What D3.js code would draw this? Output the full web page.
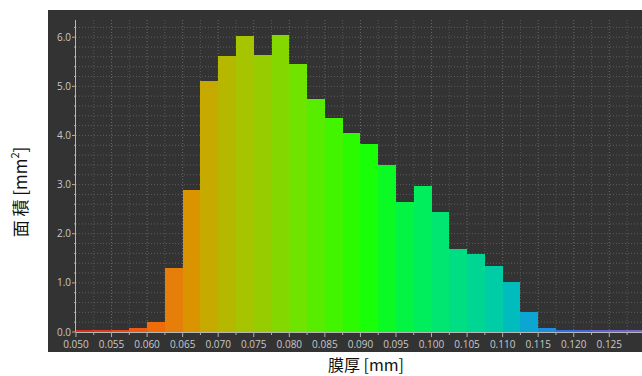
<!DOCTYPE html>
<html>
<head>
<meta charset="utf-8">
<title>膜厚 histogram</title>
<script src="https://d3js.org/d3.v7.min.js"></script>
<style>
  body { margin: 0; background: #fff; }
  svg text { font-family: "Open Sans", "Noto Sans", sans-serif; }
</style>
</head>
<body>
<svg id="chart" width="642" height="376"></svg>
<script>
// bin lower edges (mm), bin width 0.0025
var binStart = [0.0500, 0.0525, 0.0550, 0.0575, 0.0600, 0.0625, 0.0650, 0.0675, 0.0700, 0.0725,
                0.0750, 0.0775, 0.0800, 0.0825, 0.0850, 0.0875, 0.0900, 0.0925, 0.0950, 0.0975,
                0.1000, 0.1025, 0.1050, 0.1075, 0.1100, 0.1125, 0.1150, 0.1175, 0.1200, 0.1225,
                0.1250, 0.1275];
// area (mm2)
var areaValues = [0.03, 0.03, 0.04, 0.08, 0.20, 1.30, 2.88, 5.10, 5.62, 6.03,
                  5.64, 6.05, 5.46, 4.74, 4.35, 4.05, 3.82, 3.40, 2.65, 2.98,
                  2.45, 1.68, 1.58, 1.34, 1.01, 0.40, 0.09, 0.05, 0.03, 0.02,
                  0.02, 0.02];
var binColors = ["#d8301c", "#e03a18", "#e84816", "#ee5a10", "#f06c08", "#e67e0a", "#da9400", "#c6aa00", "#b6b800", "#a6c400",
                 "#96cc00", "#84d800", "#6ee400", "#58ec00", "#42f400", "#2cfa00", "#18ff08", "#0cfa24", "#04f444", "#00ee5c",
                 "#00e670", "#00de84", "#00d694", "#00cca6", "#00bcbc", "#0ca6d2", "#1c8ee2", "#3070e0", "#4862d8", "#6060d0",
                 "#6e64cc", "#7468c8"];
var xTicks = [0.050, 0.055, 0.060, 0.065, 0.070, 0.075, 0.080, 0.085, 0.090, 0.095, 0.100, 0.105, 0.110, 0.115, 0.120, 0.125];
var yTicks = [0, 1, 2, 3, 4, 5, 6];
var binWidth = 0.0025;

var svg = d3.select("#chart");

var panel = {left: 48, top: 10, right: 642, bottom: 352};

var x = d3.scaleLinear().domain([0.05, 0.1296]).range([76, 642]);
var y = d3.scaleLinear().domain([0, 6.35]).range([332, 20]);

// dark panel
svg.append("rect")
  .attr("x", panel.left).attr("y", panel.top)
  .attr("width", panel.right - panel.left).attr("height", panel.bottom - panel.top)
  .attr("fill", "#333333");

// grid
var xGrid = d3.range(0, 32).map(function(i) { return 0.05 + i * 0.0025; });
var yGrid = d3.range(1, 32).map(function(i) { return i * 0.2; });

svg.append("g").selectAll("line")
  .data(xGrid.slice(1))
  .enter().append("line")
  .attr("x1", function(d) { return x(d); }).attr("x2", function(d) { return x(d); })
  .attr("y1", y(6.35)).attr("y2", y(0))
  .attr("stroke", function(d, i) { return (i % 2 == 1) ? "#6a6a6a" : "#575757"; })
  .attr("stroke-width", 1)
  .attr("stroke-dasharray", "1,2");

svg.append("g").selectAll("line")
  .data(yGrid)
  .enter().append("line")
  .attr("x1", x(0.05)).attr("x2", 642)
  .attr("y1", function(d) { return y(d); }).attr("y2", function(d) { return y(d); })
  .attr("stroke", "#5c5c5c")
  .attr("stroke-width", 1)
  .attr("stroke-dasharray", "1,2");

// x axis
var xAxis = svg.append("g")
  .attr("transform", "translate(0," + y(0) + ")");
xAxis.append("line")
  .attr("x1", x(0.05)).attr("x2", 642).attr("y1", 0.5).attr("y2", 0.5)
  .attr("stroke", "#b8b8b8");
xAxis.selectAll(".minor")
  .data(xGrid)
  .enter().append("line")
  .attr("x1", function(d) { return x(d); }).attr("x2", function(d) { return x(d); })
  .attr("y1", 0).attr("y2", function(d, i) { return (i % 2 == 0) ? 5 : 3; })
  .attr("stroke", "#b0b0b0");
xAxis.selectAll("text")
  .data(xTicks)
  .enter().append("text")
  .attr("x", function(d) { return x(d); })
  .attr("y", 16)
  .attr("text-anchor", "middle")
  .attr("fill", "#c8c8c8")
  .style("font-size", "10px")
  .text(function(d) { return d3.format(".3f")(d); });

// bars (drawn over the baseline so tiny bins stay visible)
svg.append("g")
  .attr("shape-rendering", "crispEdges")
  .selectAll("rect")
  .data(binStart)
  .enter().append("rect")
  .attr("x", function(d) { return Math.round(x(d)); })
  .attr("width", function(d) { return Math.round(x(d + binWidth)) - Math.round(x(d)); })
  .attr("y", function(d, i) { return Math.min(y(areaValues[i]), y(0) - 2); })
  .attr("height", function(d, i) { return Math.max(y(0) - y(areaValues[i]), 2); })
  .attr("fill", function(d, i) { return binColors[i]; });

// y axis
var yAxis = svg.append("g")
  .attr("transform", "translate(" + x(0.05) + ",0)");
yAxis.append("line")
  .attr("x1", -0.5).attr("x2", -0.5).attr("y1", y(6.35)).attr("y2", y(0))
  .attr("stroke", "#b8b8b8");
yAxis.selectAll(".minor")
  .data(d3.range(0, 32).map(function(i) { return i * 0.2; }))
  .enter().append("line")
  .attr("x1", function(d, i) { return (i % 5 == 0) ? -4 : -2; }).attr("x2", 0)
  .attr("y1", function(d) { return y(d); }).attr("y2", function(d) { return y(d); })
  .attr("stroke", "#b0b0b0");
yAxis.selectAll("text")
  .data(yTicks)
  .enter().append("text")
  .attr("x", -5)
  .attr("y", function(d) { return y(d) + 3.5; })
  .attr("text-anchor", "end")
  .attr("fill", "#c8c8c8")
  .style("font-size", "10px")
  .text(function(d) { return d3.format(".1f")(d); });

// axis titles
svg.append("text")
  .attr("x", 366).attr("y", 371)
  .attr("text-anchor", "middle")
  .attr("fill", "#111")
  .style("font-family", "'Noto Sans CJK JP', sans-serif")
  .style("font-size", "16px")
  .text("膜厚 [mm]");

svg.append("text")
  .attr("transform", "translate(27,192)rotate(-90)")
  .attr("text-anchor", "middle")
  .attr("fill", "#111")
  .style("font-family", "'Noto Sans CJK JP', sans-serif")
  .style("font-size", "17px")
  .html("面 積 [mm<tspan baseline-shift='super' font-size='11px'>2</tspan>]");
</script>
</body>
</html>
